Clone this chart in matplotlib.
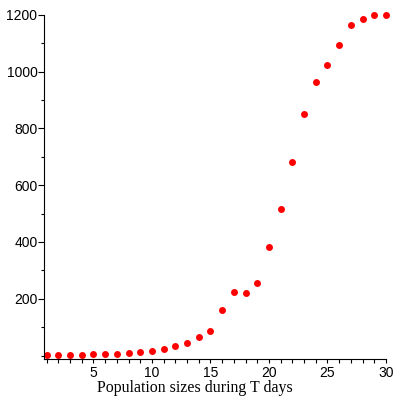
import matplotlib
matplotlib.use('Agg')
import matplotlib.pyplot as plt
from matplotlib.ticker import MultipleLocator

days = list(range(1, 31))
sizes = [1, 2, 3, 3, 4, 5, 7, 9, 12, 15,
         24, 33, 45, 66, 87, 160, 225, 220, 254, 383,
         517, 680, 851, 962, 1023, 1094, 1163, 1184, 1198, 1200]

fig = plt.figure(figsize=(4, 4), dpi=100)
ax = fig.add_axes([0.111, 0.1025, 0.854, 0.8605])

ax.plot(days, sizes, 'o', color='red', ms=5, mec='none', clip_on=False)

ax.set_xlim(0.81, 30)
ax.set_ylim(-12, 1200)

ax.spines['top'].set_visible(False)
ax.spines['right'].set_visible(False)

ax.set_xticks([5, 10, 15, 20, 25, 30])
ax.xaxis.set_minor_locator(MultipleLocator(1))
ax.set_yticks([200, 400, 600, 800, 1000, 1200])
ax.yaxis.set_minor_locator(MultipleLocator(100))

ax.tick_params(axis='x', which='both', direction='out', length=3, width=0.8, labelsize=10, pad=2)
ax.tick_params(axis='y', which='major', direction='out', length=4, width=0.8, labelsize=10, pad=1)
ax.tick_params(axis='y', which='minor', direction='out', length=2, width=0.8)

for lab in ax.get_xticklabels() + ax.get_yticklabels():
    lab.set_family('Liberation Sans')

# label sits left of the axes centre in the original
fig.text(0.4875, 1 - 388 / 400, 'Population sizes during T days',
         family='Liberation Serif', fontsize=11.4, ha='center', va='center')

fig.savefig('out.png')
